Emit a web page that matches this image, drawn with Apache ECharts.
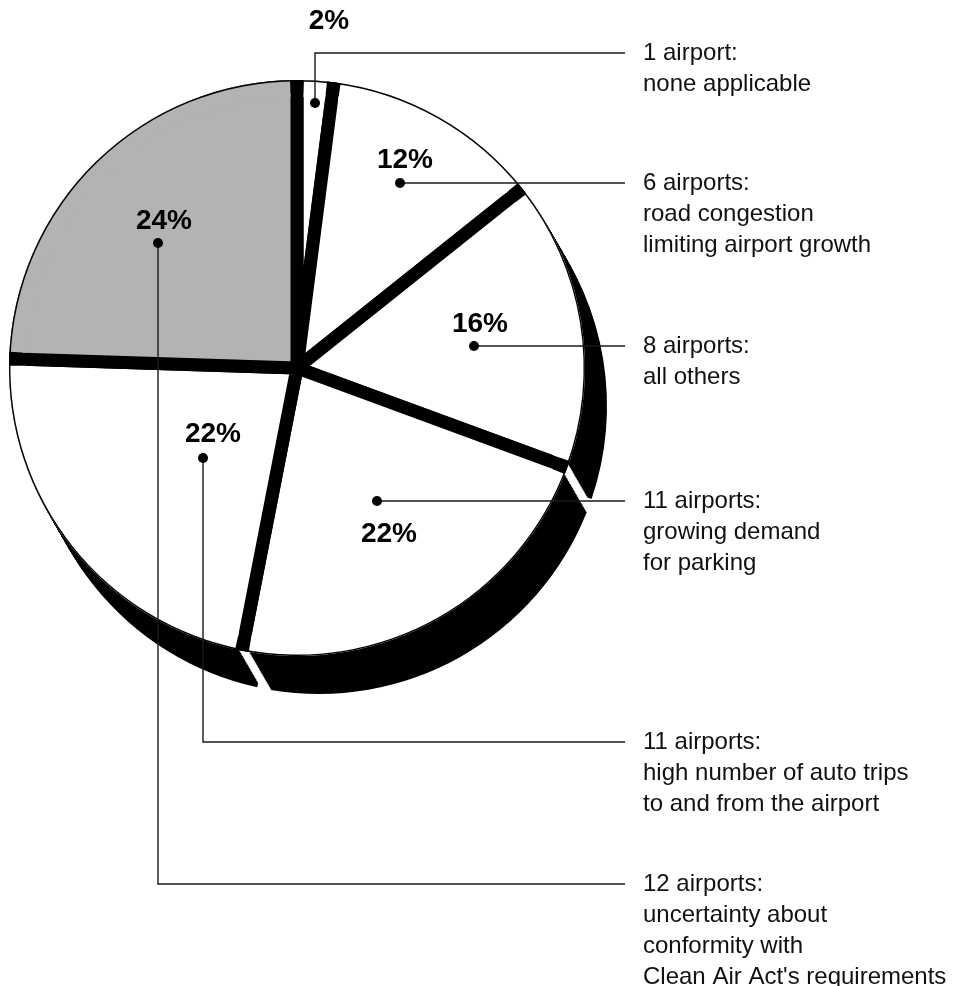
<!DOCTYPE html>
<html>
<head>
<meta charset="utf-8">
<script src="https://cdn.jsdelivr.net/npm/echarts@6/dist/echarts.min.js"></script>
<style>
html,body{margin:0;padding:0;background:#ffffff;}
#chart{width:961px;height:986px;}
</style>
</head>
<body>
<div id="chart"></div>
<script>
// ---- data ----
const categories = [
  'none applicable',
  'road congestion limiting airport growth',
  'all others',
  'growing demand for parking',
  'high number of auto trips to and from the airport',
  "uncertainty about conformity with Clean Air Act's requirements"
];
const airportCounts = [1, 6, 8, 11, 11, 12];
const descriptionLines = [
  ['1 airport:', 'none applicable'],
  ['6 airports:', 'road congestion', 'limiting airport growth'],
  ['8 airports:', 'all others'],
  ['11 airports:', 'growing demand', 'for parking'],
  ['11 airports:', 'high number of auto trips', 'to and from the airport'],
  ['12 airports:', 'uncertainty about', 'conformity with', "Clean Air Act's requirements"]
];

// ---- styles / layout ----
const faceColors = ['#ffffff', '#ffffff', '#ffffff', '#ffffff', '#ffffff', '#b3b3b3'];
const CX = 297, CY = 368, R = 288;
const DEPTH = [22, 38], STEPS = 26;
const SEP = 13;                       // separator width between slices
const BAND_IN = R - SEP - 4;          // inner radius of outer face band
const PAD = SEP / BAND_IN * 180 / Math.PI;
const annot = [
  { pct: [329, 21],  dot: [315, 103], elbow: [315, 53],  endY: 53 },
  { pct: [405, 160], dot: [400, 183], elbow: null,       endY: 183 },
  { pct: [480, 324], dot: [474, 346], elbow: null,       endY: 346 },
  { pct: [389, 534], dot: [377, 501], elbow: null,       endY: 501 },
  { pct: [213, 434], dot: [203, 458], elbow: [203, 742], endY: 742 },
  { pct: [164, 221], dot: [158, 243], elbow: [158, 884], endY: 884 }
];
const LINE_END_X = 625, TEXT_X = 643, LINE_H = 31;

const total = airportCounts.reduce((a, b) => a + b, 0);

function pieData(colorFn) {
  return airportCounts.map((v, i) => ({ value: v, name: categories[i], itemStyle: { color: colorFn(i) } }));
}
const common = {
  type: 'pie', silent: true, animation: false, startAngle: 90, clockwise: true,
  label: { show: false }, labelLine: { show: false }, emphasis: { disabled: true }
};

const series = [];
// 3D depth (swept outer wall)
for (let k = STEPS; k >= 1; k--) {
  series.push(Object.assign({}, common, {
    center: [CX + DEPTH[0] * k / STEPS, CY + DEPTH[1] * k / STEPS],
    radius: [R - 5, R],
    padAngle: PAD,
    itemStyle: { borderWidth: 0 },
    data: pieData(() => '#000000')
  }));
}
// faces with thick black separators
series.push(Object.assign({}, common, {
  center: [CX, CY], radius: R - SEP / 2,
  itemStyle: { borderColor: '#000000', borderWidth: SEP, borderJoin: 'miter' },
  data: pieData(i => faceColors[i])
}));
// outer band of faces (restores thin outline)
series.push(Object.assign({}, common, {
  center: [CX, CY], radius: [BAND_IN, R], padAngle: PAD,
  itemStyle: { borderWidth: 0 },
  data: pieData(i => faceColors[i])
}));
// thin outer outline
series.push(Object.assign({}, common, {
  center: [CX, CY], radius: [R - 1.4, R],
  itemStyle: { borderWidth: 0 },
  data: pieData(() => '#000000')
}));

// annotations
const graphics = [];
annot.forEach((a, i) => {
  const pts = [a.dot];
  if (a.elbow) pts.push(a.elbow);
  pts.push([LINE_END_X, a.endY]);
  graphics.push({ type: 'polyline', z: 100, shape: { points: pts },
    style: { stroke: '#1a1a1a', lineWidth: 1.4, fill: null } });
  graphics.push({ type: 'circle', z: 101, shape: { cx: a.dot[0], cy: a.dot[1], r: 5 },
    style: { fill: '#000000' } });
  graphics.push({ type: 'text', z: 101, x: a.pct[0], y: a.pct[1],
    style: { text: Math.round(airportCounts[i] / total * 100) + '%',
      font: 'bold 28px "Liberation Sans", Arial, Helvetica, sans-serif',
      fill: '#000000', align: 'center', verticalAlign: 'middle' } });
  graphics.push({ type: 'text', z: 101, x: TEXT_X, y: a.endY - LINE_H / 2,
    style: { text: descriptionLines[i].join('\n'),
      font: '24px "Liberation Sans", Arial, Helvetica, sans-serif',
      lineHeight: LINE_H, fill: '#111111', align: 'left', verticalAlign: 'top' } });
});

const chart = echarts.init(document.getElementById('chart'), null, { renderer: 'canvas' });
chart.setOption({
  animation: false,
  backgroundColor: '#ffffff',
  series: series,
  graphic: { elements: graphics }
});
</script>
</body>
</html>
